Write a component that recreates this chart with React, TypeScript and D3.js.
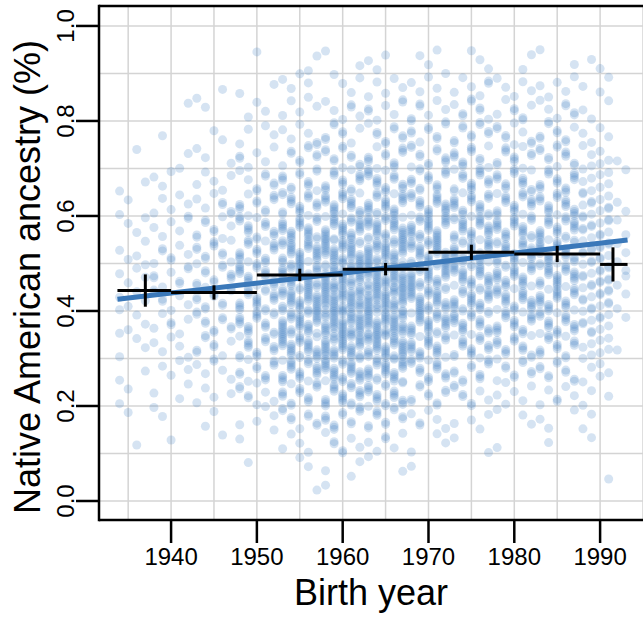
import React from 'react';
import * as d3 from 'd3';

const W = 643;
const H = 618;

// Axis ticks
const xTickYears = [1940, 1950, 1960, 1970, 1980, 1990];
const yTickValues = [0, 0.2, 0.4, 0.6, 0.8, 1.0];
const xGridYears = [1935, 1940, 1945, 1950, 1955, 1960, 1965, 1970, 1975, 1980, 1985, 1990, 1995];
const yGridValues = [0, 0.1, 0.2, 0.3, 0.4, 0.5, 0.6, 0.7, 0.8, 0.9, 1.0];

// Scatter: birth-year groups and point counts per 0.05 ancestry bin (index 0 = 0.00-0.05)
const groupStart = [1934, 1938, 1943, 1948, 1953, 1958, 1963, 1968, 1973, 1978, 1983, 1988, 1992];
const groupEnd = [1937, 1942, 1947, 1952, 1957, 1962, 1967, 1972, 1977, 1982, 1987, 1991, 1993];
const counts1934 = [0, 0, 1, 1, 2, 2, 3, 4, 5, 5, 4, 3, 2, 2, 1, 0, 0, 0, 0, 0];
const counts1938 = [0, 0, 1, 2, 3, 4, 5, 6, 7, 8, 7, 6, 5, 3, 2, 1, 1, 0, 0, 0];
const counts1943 = [0, 0, 1, 2, 4, 6, 8, 10, 11, 12, 11, 9, 7, 5, 3, 2, 2, 1, 0, 0];
const counts1948 = [0, 1, 2, 4, 8, 12, 16, 19, 21, 21, 19, 16, 12, 8, 6, 4, 3, 2, 1, 0];
const counts1953 = [1, 2, 4, 9, 15, 23, 30, 35, 37, 35, 31, 25, 19, 13, 9, 6, 5, 4, 2, 0];
const counts1958 = [1, 3, 7, 13, 22, 31, 40, 46, 48, 45, 39, 31, 23, 16, 11, 8, 6, 4, 2, 0];
const counts1963 = [0, 2, 6, 12, 20, 29, 38, 44, 47, 46, 40, 33, 25, 18, 13, 9, 7, 5, 3, 0];
const counts1968 = [0, 1, 3, 6, 10, 17, 24, 30, 33, 34, 32, 28, 22, 16, 12, 9, 7, 5, 3, 0];
const counts1973 = [0, 0, 2, 4, 8, 12, 18, 23, 27, 29, 29, 26, 22, 17, 13, 10, 8, 6, 3, 0];
const counts1978 = [0, 0, 1, 3, 6, 10, 15, 20, 24, 26, 26, 24, 20, 16, 12, 9, 7, 5, 2, 0];
const counts1983 = [0, 0, 1, 3, 6, 10, 15, 20, 24, 26, 26, 24, 19, 16, 12, 9, 7, 5, 2, 0];
const counts1988 = [1, 0, 1, 2, 3, 5, 8, 11, 13, 14, 14, 13, 11, 8, 6, 4, 3, 3, 2, 0];
const counts1992 = [0, 0, 0, 0, 0, 0, 1, 1, 2, 3, 3, 2, 2, 1, 1, 0, 0, 0, 0, 0];
const groupCounts = [counts1934, counts1938, counts1943, counts1948, counts1953, counts1958,
  counts1963, counts1968, counts1973, counts1978, counts1983, counts1988, counts1992];
const binWidth = 0.05;

// Linear fit endpoints
const fitYears = [1933.75, 1993.2];
const fitValues = [0.4245, 0.5495];

// Binned means with error bars
const binFrom = [1933.75, 1940, 1950, 1960, 1970, 1980, 1990];
const binTo = [1940, 1950, 1960, 1970, 1980, 1990, 1993.2];
const binMeanYear = [1937, 1945, 1955, 1965, 1975, 1985, 1991.5];
const binMean = [0.443, 0.439, 0.476, 0.488, 0.5235, 0.52, 0.498];
const binErr = [0.034, 0.015, 0.013, 0.013, 0.016, 0.017, 0.036];

const FONT = '"Liberation Sans", Arial, Helvetica, sans-serif';
const PHI = 0.6180339887;

export default function App() {
  const x = d3.scaleLinear().domain([1931.6, 1995.0]).range([99, 643]);
  const y = d3.scaleLinear().domain([-0.04, 1.042]).range([520, 6]);

  // place each bin's counted points in the bin, spread over the group's years
  const points: { yr: number; v: number }[] = [];
  groupCounts.forEach((row, g) => {
    const nYears = groupEnd[g] - groupStart[g] + 1;
    row.forEach((c, b) => {
      for (let j = 0; j < c; j++) {
        const yr = groupStart[g] + ((j + b * 3 + g) % nYears);
        const frac = ((j + 1) * PHI + b * 0.37 + g * 0.21) % 1;
        const v = b * binWidth + frac * binWidth;
        points.push({ yr, v });
      }
    });
  });

  const fitLine = d3.line<number>()
    .x((_, i) => x(fitYears[i]))
    .y((_, i) => y(fitValues[i]));

  const left = 99, top = 6, bottom = 520;

  return (
    <svg width={W} height={H} style={{ position: 'absolute', left: 0, top: 0, background: '#fff' }}>
      <rect x={0} y={0} width={W} height={H} fill="#fff" />
      {/* grid */}
      <g stroke="#d4d4d4" strokeWidth={1.5}>
        {xGridYears.map((g) => (
          <line key={'xg' + g} x1={x(g)} x2={x(g)} y1={top} y2={bottom} />
        ))}
        {yGridValues.map((g) => (
          <line key={'yg' + g} x1={left} x2={W} y1={y(g)} y2={y(g)} />
        ))}
      </g>
      {/* points */}
      <g fill="#3a7bc0" fillOpacity={0.21}>
        {points.map((p, i) => (
          <circle key={i} cx={x(p.yr)} cy={y(p.v)} r={4.5} />
        ))}
      </g>
      {/* fit */}
      <path d={fitLine(fitYears) || ''} stroke="#3a78b9" strokeWidth={5} fill="none" />
      {/* error bars */}
      <g stroke="#000" strokeWidth={3}>
        {binMean.map((m, i) => (
          <g key={'eb' + i}>
            <line x1={x(binFrom[i])} x2={x(binTo[i])} y1={y(m)} y2={y(m)} />
            <line x1={x(binMeanYear[i])} x2={x(binMeanYear[i])} y1={y(m - binErr[i])} y2={y(m + binErr[i])} />
          </g>
        ))}
      </g>
      {/* frame */}
      <g stroke="#000" strokeWidth={2.5} fill="none">
        <line x1={left} x2={W} y1={top} y2={top} />
        <line x1={left} x2={W} y1={bottom} y2={bottom} />
        <line x1={left} x2={left} y1={top - 1.25} y2={bottom + 1.25} />
        {xTickYears.map((t) => (
          <line key={'xt' + t} x1={x(t)} x2={x(t)} y1={bottom} y2={bottom + 23} />
        ))}
        {yTickValues.map((t) => (
          <line key={'yt' + t} x1={left - 23} x2={left} y1={y(t)} y2={y(t)} />
        ))}
      </g>
      {/* tick labels */}
      <g fontFamily={FONT} fontSize={24} fill="#000">
        {xTickYears.map((t) => (
          <text key={'xl' + t} x={x(t)} y={565} textAnchor="middle">{t}</text>
        ))}
        {yTickValues.map((t) => (
          <text key={'yl' + t} transform={`translate(74,${y(t)}) rotate(-90)`} textAnchor="middle">
            {t.toFixed(1)}
          </text>
        ))}
      </g>
      {/* axis titles */}
      <text x={371} y={605} textAnchor="middle" fontFamily={FONT} fontSize={36} fill="#000">Birth year</text>
      <text transform={`translate(40,277) rotate(-90)`} textAnchor="middle" fontFamily={FONT} fontSize={36} fill="#000">
        Native American ancestry (%)
      </text>
    </svg>
  );
}
